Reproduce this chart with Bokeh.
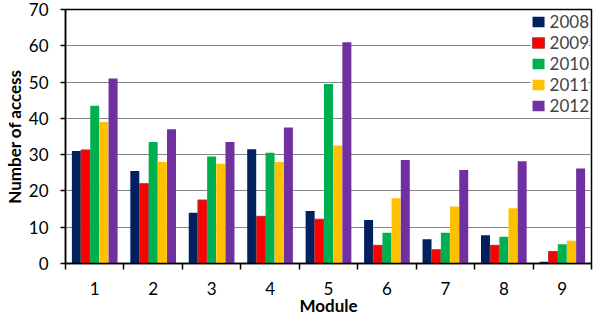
from bokeh.plotting import figure
from bokeh.models import ColumnDataSource, Range1d, FixedTicker, Legend, LegendItem
from bokeh.transform import dodge
from bokeh.embed import file_html
from bokeh.resources import INLINE

# Access counts per module, one list per year
modules = [1, 2, 3, 4, 5, 6, 7, 8, 9]
years = ["2008", "2009", "2010", "2011", "2012"]
access_2008 = [31, 25.5, 14, 31.5, 14.5, 12, 6.7, 7.8, 0.5]
access_2009 = [31.3, 22, 17.5, 13, 12.2, 5, 3.8, 5, 3.3]
access_2010 = [43.5, 33.5, 29.5, 30.5, 49.5, 8.5, 8.5, 7.4, 5.3]
access_2011 = [39, 28, 27.5, 28, 32.5, 18, 15.7, 15.2, 6.3]
access_2012 = [51, 37, 33.5, 37.5, 61, 28.5, 25.8, 28.2, 26.2]
y_ticks = [0, 10, 20, 30, 40, 50, 60, 70]

colors = ["#002060", "#FF0000", "#00B050", "#FFC000", "#7030A0"]
outlines = [None, "#A33B3B", None, None, None]
series = [access_2008, access_2009, access_2010, access_2011, access_2012]

FONT = "Lato"
TICK_SIZE = "17px"

source = ColumnDataSource(dict(module=modules, **{f"y{y}": s for y, s in zip(years, series)}))

p = figure(width=593, height=318, output_backend="svg", toolbar_location=None,
           x_range=Range1d(0.5, 9.5), y_range=Range1d(0, 70),
           min_border_left=65, min_border_right=2, min_border_top=9, min_border_bottom=54)

bar_w = 0.157
renderers = []
for i, (yr, col, oc) in enumerate(zip(years, colors, outlines)):
    r = p.vbar(x=dodge("module", (i - 2) * bar_w, range=p.x_range), top=f"y{yr}",
               width=bar_w * 0.98, source=source, fill_color=col,
               line_color=oc, line_width=1)
    renderers.append(r)

legend = Legend(items=[LegendItem(label=yr, renderers=[r]) for yr, r in zip(years, renderers)],
                location="top_right", margin=2, padding=6, spacing=0,
                glyph_width=15, glyph_height=13, label_height=21,
                label_text_font=FONT, label_text_font_size=TICK_SIZE,
                label_standoff=4, border_line_color=None,
                background_fill_color="white", background_fill_alpha=1.0)
p.add_layout(legend)

# axes
p.xaxis.ticker = FixedTicker(ticks=modules, minor_ticks=[m + 0.5 for m in [0] + modules])
p.xaxis.major_tick_line_color = None
p.xaxis.major_tick_out = 0
p.xaxis.minor_tick_out = 6
p.xaxis.minor_tick_in = 0
p.xaxis.minor_tick_line_color = "black"
p.xaxis.minor_tick_line_width = 1.5
p.xaxis.major_label_standoff = 12
p.xaxis.axis_label = "Module"
p.xaxis.axis_label_standoff = -3

p.yaxis.ticker = FixedTicker(ticks=y_ticks)
p.yaxis.minor_tick_line_color = None
p.yaxis.major_tick_out = 5
p.yaxis.major_tick_in = 0
p.yaxis.major_label_standoff = 12
p.yaxis.axis_label = "Number of access"
p.yaxis.axis_label_standoff = 1
p.yaxis.axis_label_text_line_height = 1.0

for ax in (p.xaxis, p.yaxis):
    ax.axis_line_color = "black"
    ax.axis_line_width = 1.5
    ax.major_tick_line_width = 1.5
    ax.major_label_text_font = FONT
    ax.major_label_text_font_size = TICK_SIZE
    ax.major_label_text_color = "black"
    ax.axis_label_text_font = FONT
    ax.axis_label_text_font_size = "17px"
    ax.axis_label_text_font_style = "bold"
    ax.axis_label_text_color = "black"

p.xgrid.grid_line_color = None
p.ygrid.ticker = FixedTicker(ticks=y_ticks)
p.ygrid.grid_line_color = "#868686"
p.ygrid.grid_line_width = 1

p.outline_line_color = "black"
p.outline_line_width = 1.5
p.background_fill_color = "white"
p.border_fill_color = "white"

open("out.html", "w").write(file_html(p, INLINE))
